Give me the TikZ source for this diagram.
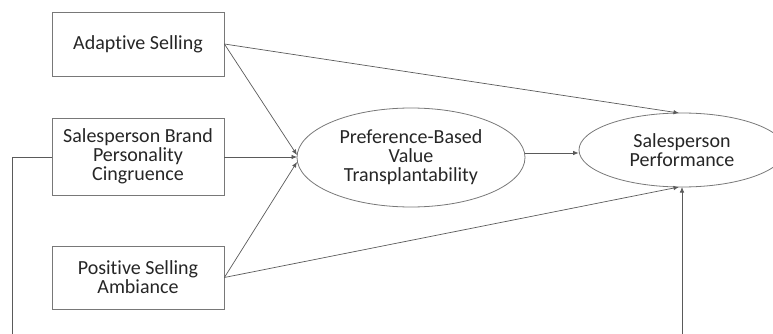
\documentclass[tikz,border=0pt]{standalone}
\usepackage{fontspec}
\setmainfont{Carlito}[Ligatures={NoCommon}]
\usetikzlibrary{shapes.geometric,arrows.meta}
\definecolor{bordc}{RGB}{120,120,120}
\definecolor{linec}{RGB}{90,90,90}
\begin{document}
\begin{tikzpicture}[x=1pt,y=-1pt,
  box/.style={draw=bordc,line width=0.8pt,minimum width=172pt,inner sep=0pt,align=center,font=\fontsize{20}{19}\selectfont,text=black!85},
  oval/.style={draw=bordc,line width=0.8pt,ellipse,inner sep=0pt,align=center,font=\fontsize{20}{19}\selectfont,text=black!85},
  conn/.style={draw=linec,line width=0.7pt,-{Latex[length=5.5pt,width=4.5pt]}},
  plain/.style={draw=linec,line width=0.7pt}]
\useasboundingbox (0,0) rectangle (773,334);
\clip (0,0) rectangle (773,334);
\node[box,minimum height=64pt] (AS) at (138,44) {Adaptive Selling};
\node[box,minimum height=77pt] (SB) at (138,156.5) {Salesperson Brand\\Personality\\Cingruence};
\node[box,minimum height=63pt] (PS) at (138,277.5) {Positive Selling\\Ambiance};
\node[oval,minimum width=228pt,minimum height=99pt] (PV) at (411,157.5) {Preference-Based\\Value\\Transplantability};
\node[oval,minimum width=206pt,minimum height=74pt] (SP) at (682,150) {Salesperson\\Performance};
\coordinate (inA) at (297,155);
\coordinate (inB) at (297,157);
\coordinate (inC) at (297,162);
\coordinate (spT) at (679,113);
\coordinate (spB) at (679,187);
\coordinate (spF) at (682,187);
\coordinate (f1) at (12,157);
\coordinate (f2) at (12,360);
\coordinate (f3) at (682,360);
\draw[conn] (AS.east) -- (inA);
\draw[conn] (SB.east |- inB) -- (inB);
\draw[conn] (PS.east) -- (inC);
\draw[conn] (AS.east) -- (spT);
\draw[conn] (PS.east) -- (spB);
\draw[conn] (PV.east |- 0,153) -- (SP.west |- 0,153);
\draw[plain] (SB.west |- f1) -- (f1) -- (f2) -- (f3);
\draw[conn] (f3) -- (spF);
\end{tikzpicture}
\end{document}
